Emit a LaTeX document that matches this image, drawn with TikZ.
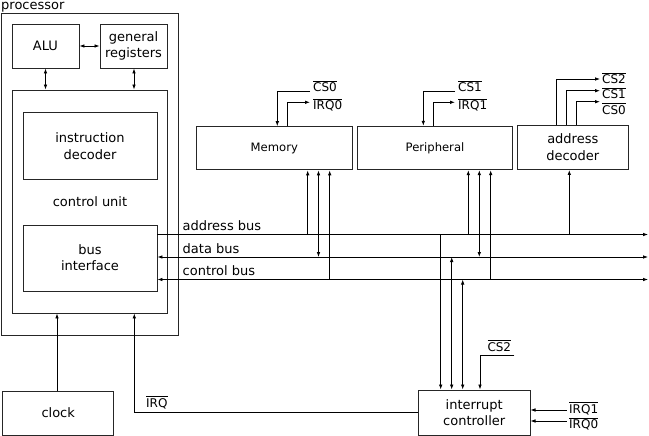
\documentclass[tikz,border=0pt]{standalone}
\usepackage{fontspec}
\setmainfont{DejaVu Sans}
\usetikzlibrary{arrows.meta,calc}
\newcommand{\ovl}[1]{$\overline{\mbox{#1}}$}
\begin{document}
\begin{tikzpicture}[x=1pt,y=-1pt,
  box/.style={draw=black!85,line width=0.9pt,inner sep=0pt,align=center,font=\fontsize{13}{16.3}\selectfont},
  lbl/.style={inner sep=0pt,font=\fontsize{13}{16}\selectfont},
  slbl/.style={inner sep=0pt,font=\fontsize{12}{14}\selectfont},
  conn/.style={line width=0.8pt},
  >={Latex[length=5pt,width=3.6pt]}]

\useasboundingbox (0,0) rectangle (649,436);

% processor
\node[box,minimum width=176.5pt,minimum height=322pt] (proc) at (89.75,174) {};
\node[lbl,anchor=base west] (proclbl) at (1,9.6) {processor};
\node[box,minimum width=67pt,minimum height=44pt] (alu) at (45.5,46) {ALU};
\node[box,minimum width=67pt,minimum height=44pt] (gr) at (133.5,46) {general\\registers};
\node[box,minimum width=155pt,minimum height=223pt] (cu) at (89.8,201.5) {};
\node[box,minimum width=134pt,minimum height=67pt] (idec) at (90,146.3) {instruction\\decoder};
\node[lbl] (culbl) at (90,202) {control unit};
\node[box,minimum width=134pt,minimum height=66pt] (bi) at (90,258) {bus\\interface};

% devices
\node[box,font=\fontsize{11.6}{14}\selectfont,minimum width=155.3pt,minimum height=43.3pt] (mem) at (274.3,148.3) {Memory};
\node[box,font=\fontsize{11.6}{14}\selectfont,minimum width=155.4pt,minimum height=43.5pt] (per) at (435,148) {Peripheral};
\node[box,minimum width=111pt,minimum height=44.5pt] (adec) at (572.8,147.3) {address\\decoder};
\node[box,minimum width=111pt,minimum height=44pt] (clock) at (58.2,413) {clock};
\node[box,font=\fontsize{13}{15.8}\selectfont,minimum width=111.7pt,minimum height=45pt] (ic) at (474.2,412.5) {interrupt\\controller};

% x positions of taps
\coordinate (xa1) at (45.5,0);
\coordinate (xg1) at (134,0);
\coordinate (xm0) at (277.3,0);
\coordinate (xm1) at (287.3,0);
\coordinate (xm2) at (307.7,0);
\coordinate (xm3) at (318.5,0);
\coordinate (xm4) at (329.7,0);
\coordinate (xp0) at (423.3,0);
\coordinate (xp1) at (433.3,0);
\coordinate (xp2) at (468.3,0);
\coordinate (xp3) at (479.3,0);
\coordinate (xp4) at (490.7,0);
\coordinate (xd0) at (556.7,0);
\coordinate (xd1) at (566.7,0);
\coordinate (xd2) at (576.7,0);
\coordinate (xd3) at (569.3,0);
\coordinate (xi1) at (440.7,0);
\coordinate (xi2) at (451.7,0);
\coordinate (xi3) at (462.7,0);
\coordinate (xi4) at (480,0);
\coordinate (xq) at (134.3,0);
\coordinate (xc) at (57,0);

% bus ends
\coordinate (abE) at (648,234.5);
\coordinate (dbE) at (648,257);
\coordinate (cbE) at (648,279.5);

% inside processor
\draw[conn,<->] (alu.east) -- (gr.west);
\draw[conn,<->] (alu.south -| xa1) -- (cu.north -| xa1);
\draw[conn,<->] (gr.south -| xg1) -- (cu.north -| xg1);

% buses
\draw[conn,->] (bi.east |- abE) -- (abE);
\draw[conn,<->] (bi.east |- dbE) -- (dbE);
\draw[conn,<->] (bi.east |- cbE) -- (cbE);
\node[lbl,anchor=base west] (ablbl) at (182.5,230.7) {address bus};
\node[lbl,anchor=base west] (dblbl) at (182.5,253.3) {data bus};
\node[lbl,anchor=base west] (cblbl) at (182.5,275.7) {control bus};

% memory taps
\draw[conn,->] (abE -| xm2) -- (mem.south -| xm2);
\draw[conn,<->] (dbE -| xm3) -- (mem.south -| xm3);
\draw[conn,->] (cbE -| xm4) -- (mem.south -| xm4);
% peripheral taps
\draw[conn,->] (abE -| xp2) -- (per.south -| xp2);
\draw[conn,<->] (dbE -| xp3) -- (per.south -| xp3);
\draw[conn,->] (cbE -| xp4) -- (per.south -| xp4);
% address decoder tap
\draw[conn,->] (abE -| xd3) -- (adec.south -| xd3);
% interrupt controller taps
\draw[conn,->] (abE -| xi1) -- (ic.north -| xi1);
\draw[conn,<->] (dbE -| xi2) -- (ic.north -| xi2);
\draw[conn,<->] (cbE -| xi3) -- (ic.north -| xi3);

% memory chip select / irq
\node[slbl,anchor=base west] (cs0m) at (313,91.7) {\ovl{CS0}};
\node[slbl,anchor=base west] (irq0m) at (313,109.5) {\ovl{IRQ0}};
\draw[conn,->] ([xshift=-3pt]cs0m.base west) -| (mem.north -| xm0);
\draw[conn,->] (mem.north -| xm1) |- ([xshift=-3pt,yshift=7.2pt]irq0m.base west);

% peripheral chip select / irq
\node[slbl,anchor=base west] (cs1p) at (458,91.7) {\ovl{CS1}};
\node[slbl,anchor=base west] (irq1p) at (458,109.5) {\ovl{IRQ1}};
\draw[conn,->] ([xshift=-3pt]cs1p.base west) -| (per.north -| xp0);
\draw[conn,->] (per.north -| xp1) |- ([xshift=-3pt,yshift=7.2pt]irq1p.base west);

% address decoder outputs
\node[slbl,anchor=base west] (cs2a) at (602,84) {\ovl{CS2}};
\node[slbl,anchor=base west] (cs1a) at (602,98.3) {\ovl{CS1}};
\node[slbl,anchor=base west] (cs0a) at (602,114) {\ovl{CS0}};
\draw[conn,->] (adec.north -| xd0) |- ([xshift=-2pt,yshift=5pt]cs2a.base west);
\draw[conn,->] (adec.north -| xd1) |- ([xshift=-2pt,yshift=7.6pt]cs1a.base west);
\draw[conn,->] (adec.north -| xd2) |- ([xshift=-2pt,yshift=12.3pt]cs0a.base west);

% interrupt controller inputs
\node[slbl,anchor=base west] (cs2i) at (487.3,351) {\ovl{CS2}};
\draw[conn,->] ([xshift=3pt,yshift=-4.7pt]cs2i.base east) -| (ic.north -| xi4);
\node[slbl,anchor=base west] (irq1i) at (569,413) {\ovl{IRQ1}};
\node[slbl,anchor=base west] (irq0i) at (569,428.5) {\ovl{IRQ0}};
\coordinate (i1s) at ([xshift=-2.3pt,yshift=3pt]irq1i.base west);
\coordinate (i0s) at ([xshift=-2.3pt,yshift=7.5pt]irq0i.base west);
\draw[conn,->] (i1s) -- (ic.east |- i1s);
\draw[conn,->] (i0s) -- (ic.east |- i0s);

% IRQ to processor, clock
\node[slbl,anchor=base west] (irqlbl) at (146,407) {\ovl{IRQ}};
\draw[conn,->] (ic.west) -| (cu.south -| xq);
\draw[conn,->] (clock.north -| xc) -- (cu.south -| xc);
\end{tikzpicture}
\end{document}
